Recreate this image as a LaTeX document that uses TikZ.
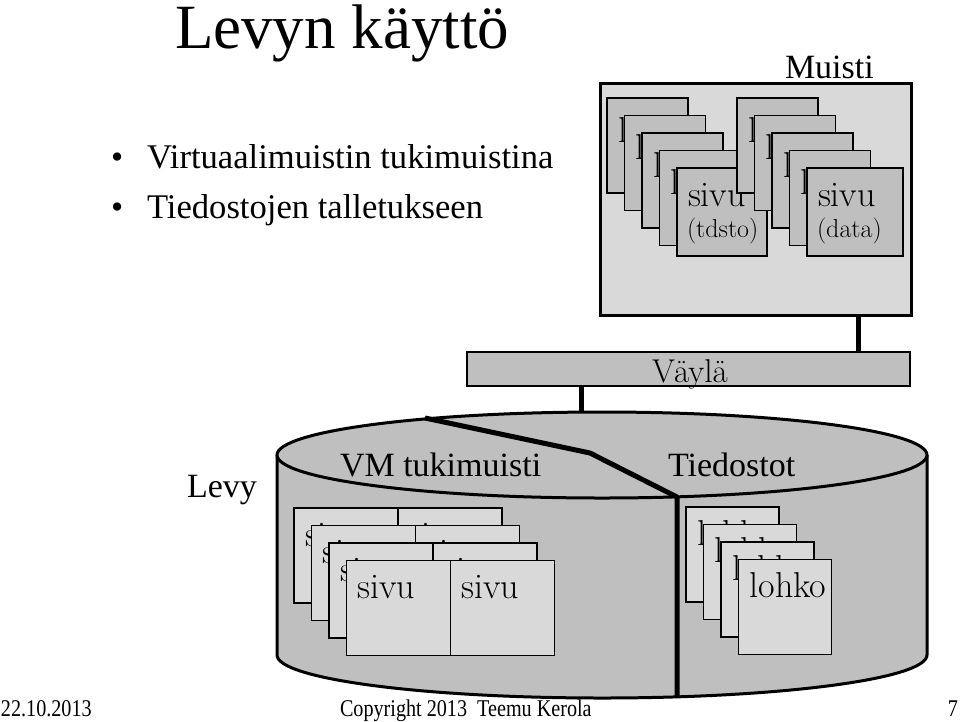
\documentclass[tikz,border=0pt]{standalone}
\usepackage{fontspec}
\newfontfamily\tnr{Liberation Serif}
\newfontfamily\footfont{Liberation Serif}[FakeStretch=0.84]
\newcommand\cardfont{\fontsize{36}{40}\selectfont}
\newcommand\smallcard{\fontsize{26}{30}\selectfont}
\newcommand\bigtnr{\tnr\fontsize{34}{40}\selectfont}

\begin{document}
\begin{tikzpicture}[x=1pt, y=-1pt,
    every node/.style={inner sep=0, outer sep=0},
    box/.style={draw, line width=1.2pt, anchor=north west},
    mcard/.style={box, fill=black!25, minimum width=81, minimum height=95},
    dcard/.style={box, fill=black!15, minimum width=104, minimum height=95},
    lcard/.style={box, fill=black!15, minimum width=93, minimum height=95},
    ctxt/.style 2 args={label={[anchor=base west, xshift=11, yshift=-#1, font=\cardfont]north west:#2}},
    subtxt/.style={label={[anchor=base west, xshift=10, yshift=-69, font=\smallcard]north west:#1}},
    busline/.style={line width=5pt},
    disk/.style={line width=3pt, fill=black!25}]
    \useasboundingbox (0,0) rectangle (960,721);

    \node[anchor=base west, font=\tnr\fontsize{63}{70}\selectfont] (title) at (175,48) {Levyn käyttö};
    \node[anchor=base west, font=\tnr\fontsize{34.6}{40}\selectfont] (dot1) at (111,168) {•};
    \node[anchor=base west, font=\tnr\fontsize{34.6}{40}\selectfont] (b1) at (147,168) {Virtuaalimuistin tukimuistina};
    \node[anchor=base west, font=\tnr\fontsize{34.6}{40}\selectfont] (dot2) at (111,218) {•};
    \node[anchor=base west, font=\tnr\fontsize{34.6}{40}\selectfont] (b2) at (147,218) {Tiedostojen talletukseen};

    % muisti
    \node[anchor=base west, font=\bigtnr] (muisti) at (785,78) {Muisti};
    \node[box, fill=black!15, line width=3pt, minimum width=311, minimum height=232] (mem) at (600,83) {};
    \foreach \i in {0,...,3}
        \node[mcard, ctxt={44}{lohko}] (ml\i) at (607+17.5*\i, 98+17.5*\i) {};
    \node[mcard, minimum width=90, minimum height=88, ctxt={38}{sivu}, subtxt={(tdsto)}] (tdsto) at (677,168) {};
    \foreach \i in {0,...,3}
        \node[mcard, ctxt={44}{lohko}] (mr\i) at (737+17.5*\i, 98+17.5*\i) {};
    \node[mcard, minimum width=96, minimum height=88, ctxt={38}{sivu}, subtxt={(data)}] (data) at (807,168) {};

    % väylä
    \node[box, fill=black!25, minimum width=443, minimum height=34] (bus) at (467,352) {};
    \node[anchor=base, font=\fontsize{33}{36}\selectfont] (bustxt) at (690,382) {Väylä};
    \coordinate (memtap) at (858,0);
    \coordinate (disktap) at (581,412);
    \draw[busline] (mem.south -| memtap) -- (bus.north -| memtap);
    \draw[busline] (bus.south -| disktap) -- (disktap);

    % levy
    \draw[disk] (277,455) -- (277,655) arc[start angle=180, end angle=0, x radius=325, y radius=43] -- (927,455);
    \draw[disk] (602,455) ellipse [x radius=325, y radius=43];
    \draw[line width=5pt, line join=round] (425,418) -- (590,453) -- (677,497) -- (677,697);
    \node[anchor=base, font=\bigtnr] (levy) at (222,497) {Levy};
    \node[anchor=base west, font=\bigtnr] (vm) at (340,476) {VM tukimuisti};
    \node[anchor=base west, font=\bigtnr] (tied) at (668,476) {Tiedostot};
    \foreach \i in {0,...,3} {
        \node[dcard, ctxt={38}{sivu}] (vl\i) at (294+17.5*\i, 508+17.5*\i) {};
        \node[dcard, ctxt={38}{sivu}] (vr\i) at (vl\i.north east) {};
    }
    \foreach \i in {0,...,3}
        \node[lcard, ctxt={38}{lohko}] (lk\i) at (686+17.5*\i, 507+17.5*\i) {};

    \node[anchor=base west, font=\footfont\fontsize{24}{28}\selectfont] (date) at (1,716) {22.10.2013};
    \node[anchor=base west, font=\footfont\fontsize{24}{28}\selectfont] (copy) at (340,716) {Copyright 2013\ \ Teemu Kerola};
    \node[anchor=base east, font=\footfont\fontsize{24}{28}\selectfont] (page) at (958,716) {7};
\end{tikzpicture}
\end{document}
